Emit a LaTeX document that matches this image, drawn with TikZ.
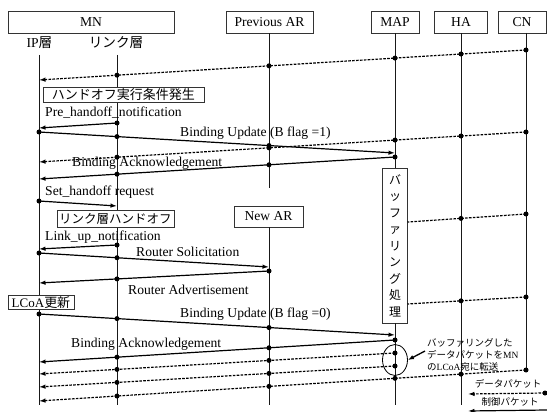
\documentclass[tikz,border=0pt]{standalone}
\usepackage{fontspec}
\setmainfont{Liberation Serif}
\newfontfamily\jp{Noto Sans CJK JP}
\usetikzlibrary{arrows.meta,calc,shapes.geometric}

\newcommand\seqmsg[7]{% #1 name, #2 style, #3 xs, #4 ys, #5 xe, #6 ye, #7 dot x list
  \coordinate (#1s) at (#3,#4);
  \coordinate (#1e) at (#5,#6);
  \draw[#2] (#1s) -- (#1e);
  \foreach \xx in {#7}{\node[dot] (#1-\xx) at ($(#1s)!{(\xx-#3)/(#5-#3)}!(#1e)$) {};}%
}

\begin{document}
\begin{tikzpicture}[x=1pt,y=-1pt,
  lbl/.style={font=\fontsize{13.6}{16}\selectfont, inner sep=0pt},
  hdr/.style={draw=black!80, line width=0.7pt, fill=white, minimum height=22pt, inner sep=0pt, font=\fontsize{13.6}{16}\selectfont},
  life/.style={line width=0.7pt, draw=black!90},
  dot/.style={circle, fill=black, inner sep=0pt, minimum size=5pt},
  tip/.style={-{Latex[length=6.5pt,width=4.5pt]}},
  msg/.style={line width=1.2pt, tip},
  data/.style={line width=1.2pt, dash pattern=on 2.6pt off 1.3pt, tip},
  dataplain/.style={line width=1.2pt, dash pattern=on 2.6pt off 1.3pt},
  jbox/.style={draw=black!80, line width=0.7pt, fill=white, inner sep=0pt, font=\jp\fontsize{13}{15}\selectfont},
  note/.style={inner sep=0pt, anchor=base west, font=\fontsize{9.5}{11}\selectfont},
]
\path[use as bounding box] (0,0) rectangle (547,412);

% headers
\node[hdr, minimum width=166pt] (MN) at (91,22) {MN};
\node[hdr, minimum width=87pt] (PAR) at (269.5,22) {Previous AR};
\node[hdr, minimum width=48pt] (MAP) at (395,22) {MAP};
\node[hdr, minimum width=53pt] (HA) at (461,22) {HA};
\node[hdr, minimum width=48pt] (CN) at (522,22) {CN};
\node[lbl] (iplbl) at (39.5,43) {IP{\jp 層}};
\node[lbl] (lklbl) at (116,43) {{\jp リンク層}};

% lifelines
\coordinate (ipT) at (39,55);  \coordinate (ipB) at (39,405);
\coordinate (lkT) at (117,55); \coordinate (lkB) at (117,405);
\coordinate (parB) at (269,188);
\coordinate (cnT) at (526,33); \coordinate (cnB) at (526,370);
\coordinate (bot) at (0,405);
\draw[life] (ipT) -- (ipB);
\draw[life] (lkT) -- (lkB);
\draw[life] (PAR.south -| parB) -- (parB);
\draw[life] (cnT) -- (cnB);
\draw[life] (HA.south) -- (HA.south |- bot);

\node[hdr, minimum width=69pt, minimum height=21pt] (NAR) at (268.5,216.5) {New AR};
\draw[life] (NAR.south -| parB) -- (parB |- bot);

\node[draw=black!80, line width=0.7pt, fill=white, minimum width=25pt, minimum height=155pt, inner sep=0pt, align=center, font=\jp\fontsize{12}{16.5}\selectfont] (buf) at (395,245.5) {バ\\ッ\\フ\\ァ\\リ\\ン\\グ\\処\\理};
\draw[life] (MAP.south) -- (buf.north);
\draw[life] (buf.south) -- (buf.south |- bot);

% messages
\seqmsg{da}{data}{526}{50}{39}{80}{526,461,395,269,117}
\seqmsg{ph}{msg}{117}{123}{39}{128}{117}
\seqmsg{bua}{msg}{39}{132}{395}{153}{39,117,269}
\seqmsg{db}{data}{526}{132}{39}{162}{526,461,395,269,117}
\seqmsg{baa}{msg}{395}{157}{39}{179}{395,269,117}
\seqmsg{sh}{msg}{39}{201}{117}{206}{39}
\seqmsg{lu}{msg}{117}{245}{39}{249}{117}
\seqmsg{rs}{msg}{39}{253}{269}{267}{39,117}
\seqmsg{ra}{msg}{269}{271}{39}{283}{269,117}
\seqmsg{bia}{dataplain}{526}{214}{407.5}{222}{526,461}
\seqmsg{bib}{dataplain}{526}{297}{407.5}{304}{526,461}
\seqmsg{bub}{msg}{39}{314}{395}{335}{39,117,269}
\seqmsg{bab}{msg}{395}{340}{39}{362}{395,269,117}
\seqmsg{dc}{data}{395}{353}{39}{374}{395,269,117}
\seqmsg{dd}{data}{395}{366}{39}{387}{395,269,117}
\seqmsg{de}{data}{526}{370}{39}{401}{526,461,395,269,117}

% boxes on MN
\node[jbox, minimum width=161pt, minimum height=15pt] (hoc) at (123.5,94.5) {ハンドオフ実行条件発生};
\node[jbox, font=\jp\fontsize{12.5}{15}\selectfont, minimum width=117pt, minimum height=17pt] (llh) at (115.5,218.5) {リンク層ハンドオフ};
\node[draw=black!80, line width=0.7pt, fill=white, inner sep=0pt, minimum width=66pt, minimum height=14pt, font=\fontsize{13}{15}\selectfont] (lcoa) at (41,302.5) {LCoA{\jp 更新}};

% labels
\node[lbl, anchor=base west] (lph) at (45,117) {Pre\_handoff\_notification};
\node[lbl, anchor=base west] (lbua) at (180,136) {Binding Update (B flag =1)};
\node[lbl, anchor=base west] (lbaa) at (72,166) {Binding Acknowledgement};
\node[lbl, anchor=base west] (lsh) at (45,196) {Set\_handoff request};
\node[lbl, anchor=base west] (llu) at (45,240) {Link\_up\_notification};
\node[lbl, anchor=base west] (lrs) at (136,256) {Router Solicitation};
\node[lbl, anchor=base west] (lra) at (128,294) {Router Advertisement};
\node[lbl, anchor=base west] (lbub) at (180,317) {Binding Update (B flag =0)};
\node[lbl, anchor=base west] (lbab) at (71,347) {Binding Acknowledgement};

% buffered forwarding annotation
\node[draw, line width=0.8pt, ellipse, minimum width=25pt, minimum height=31pt, inner sep=0pt] (circ) at (395,360) {};
\node[note] (n1) at (427,346) {{\jp バッファリングした}};
\node[note] (n2) at (427,358) {{\jp データパケットを}MN};
\node[note] (n3) at (427,370) {{\jp の}LCoA{\jp 宛に転送}};
\coordinate (annA) at (425,351);
\draw[line width=1.3pt, -{Latex[length=6pt,width=4.5pt]}] (annA) -- (circ.east);

% legend
\node[note, anchor=center, font=\jp\fontsize{9.5}{11}\selectfont] (lgd) at (508,384) {データパケット};
\node[note, anchor=center, font=\jp\fontsize{9.5}{11}\selectfont] (lgc) at (510,402) {制御パケット};
\coordinate (lgdA) at (545,393); \coordinate (lgdB) at (468,394);
\coordinate (lgcA) at (547,410); \coordinate (lgcB) at (468,411);
\draw[data] (lgdA) -- (lgdB);
\node[dot] (lgdot) at (lgdA) {};
\draw[msg] (lgcA) -- (lgcB);
\end{tikzpicture}
\end{document}
